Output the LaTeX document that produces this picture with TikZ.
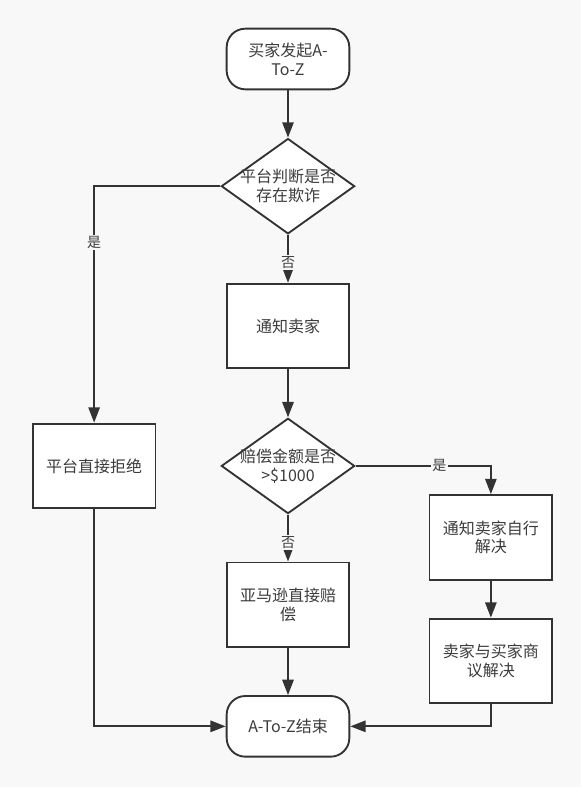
\documentclass[tikz,border=0pt]{standalone}
\usepackage{fontspec}
\setmainfont{Noto Sans CJK SC}
\usetikzlibrary{positioning,shapes.geometric,arrows.meta}

\definecolor{bggray}{HTML}{F8F8F8}
\definecolor{linegray}{HTML}{333333}
\definecolor{textgray}{HTML}{3C3C3C}

\tikzset{
    base/.style={draw=linegray, line width=1.4pt, fill=white, text=textgray,
        align=center, font=\fontsize{12pt}{14.2pt}\selectfont},
    terminal/.style={base, rectangle, rounded corners=14pt,
        minimum width=92pt, minimum height=45.5pt},
    process/.style={base, rectangle, minimum width=92pt, minimum height=63.5pt},
    decision/.style={base, diamond, aspect=1.4, inner sep=-2pt,
        minimum width=100pt, minimum height=71.5pt},
    flow/.style={draw=linegray, line width=1.4pt,
        -{Triangle[length=11.5pt, width=8.5pt]}},
    answer/.style={fill=bggray, text=textgray, inner sep=1pt,
        font=\fontsize{10.5pt}{12pt}\selectfont}
}

\begin{document}
\begin{tikzpicture}
    \fill[bggray] (-216pt,44.25pt) rectangle (219.75pt,-546pt);
    \useasboundingbox (-216pt,44.25pt) rectangle (219.75pt,-546pt);

    \node[terminal]                          (start)  {买家发起A-\\To-Z};
    \node[decision, below=35.5pt of start]   (fraud)  {平台判断是否\\存在欺诈};
    \node[process, below=36pt of fraud]      (notify) {通知卖家};
    \node[decision, below=36pt of notify]    (amount) {赔偿金额是否\\>\$1000};
    \node[process, below=35.25pt of amount]  (pay)    {亚马逊直接赔\\偿};
    \node[terminal, below=35.25pt of pay]    (finish) {A-To-Z结束};
    \node[process, left=48pt of amount]      (reject) {平台直接拒绝};
    \node[process, right=54.75pt of amount, yshift=-53.6pt] (selfsolve) {通知卖家自行\\解决};
    \node[process, below=27.75pt of selfsolve] (negotiate) {卖家与买家商\\议解决};

    \draw[flow] (start) -- (fraud);
    \draw[flow] (fraud) -- node[answer, pos=0.58] {否} (notify);
    \draw[flow] (fraud.west) -| node[answer, pos=0.62] {是} (reject.north);
    \draw[flow] (notify) -- (amount);
    \draw[flow] (amount) -- node[answer, pos=0.6] {否} (pay);
    \draw[flow] (amount.east) -| node[answer, pos=0.31] {是} (selfsolve.north);
    \draw[flow] (selfsolve) -- (negotiate);
    \draw[flow] (pay) -- (finish);
    \draw[flow] (reject.south) |- (finish.west);
    \draw[flow] (negotiate.south) |- (finish.east);
\end{tikzpicture}
\end{document}
